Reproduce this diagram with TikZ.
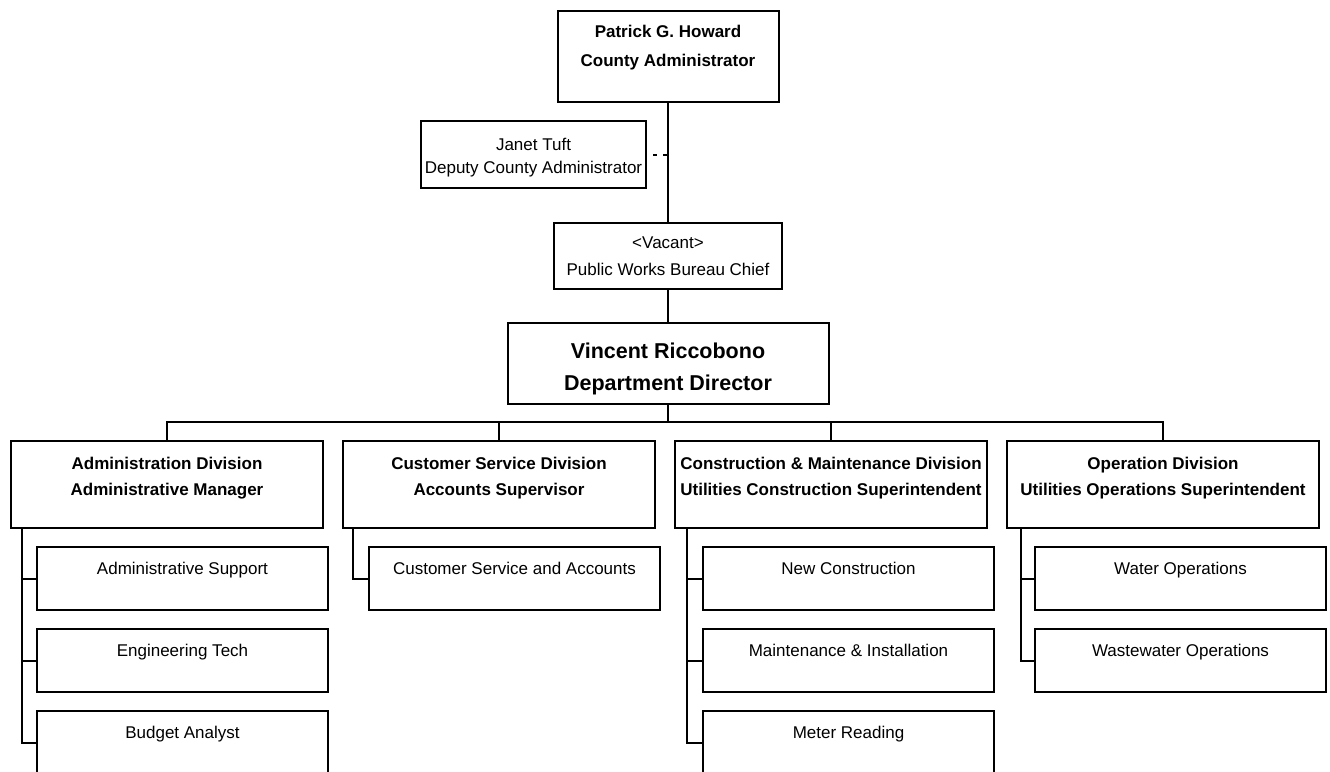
\documentclass[tikz,border=0pt]{standalone}
\usepackage{fontspec}
\setmainfont{Liberation Sans}

\begin{document}
\begin{tikzpicture}[x=0.5pt, y=-0.5pt, line width=1pt,
    unit/.style={draw, inner sep=0pt},
    headtext/.style={anchor=north, align=center, inner sep=0pt, font=\fontsize{8.5}{#1}\selectfont\bfseries},
    bodytext/.style={anchor=north, align=center, inner sep=0pt, font=\fontsize{8.5}{#1}\selectfont},
    division/.style={unit, anchor=north west, minimum width=156pt, minimum height=43.5pt},
    section/.style={unit, anchor=north west, minimum width=145.5pt, minimum height=31.5pt,
        label={[bodytext=12pt, yshift=-7.5pt]north:#1}}]
    \path[use as bounding box, clip] (0,0) rectangle (1330,772);

    % top of the chart
    \node[unit, anchor=north, minimum width=110.5pt, minimum height=45.5pt,
        label={[headtext=14.5pt, yshift=-7pt]north:Patrick G. Howard\\County Administrator}] (howard) at (668,10) {};
    \node[unit, anchor=north west, minimum width=112.5pt, minimum height=33.5pt,
        label={[bodytext=11.5pt, yshift=-8.5pt]north:Janet Tuft\\Deputy County Administrator}] (tuft) at (420,120) {};
    \node[unit, anchor=north, minimum width=114pt, minimum height=33pt,
        label={[bodytext=13.5pt, yshift=-7pt]north:<Vacant>\\Public Works Bureau Chief}] (chief) at (668,222) {};
    \node[unit, anchor=north, minimum width=160.5pt, minimum height=40.5pt,
        label={[anchor=north, align=center, inner sep=0pt, font=\fontsize{10.75}{16}\selectfont\bfseries, yshift=-10pt]north:Vincent Riccobono\\Department Director}] (director) at (668,322) {};

    \draw (howard) -- (chief);
    \draw[dash pattern=on 2pt off 3pt, dash phase=2pt] (tuft.east) -- (tuft.east -| howard.south);
    \draw (chief) -- (director);

    % divisions
    \node[division, label={[headtext=13pt, yshift=-8pt]north:Administration Division\\Administrative Manager}] (admin) at (10,440) {};
    \node[division, label={[headtext=13pt, yshift=-8pt]north:Customer Service Division\\Accounts Supervisor}] (customer) at (342,440) {};
    \node[division, label={[headtext=13pt, yshift=-8pt]north:Construction \& Maintenance Division\\Utilities Construction Superintendent}] (construction) at (674,440) {};
    \node[division, label={[headtext=13pt, yshift=-8pt]north:Operation Division\\Utilities Operations Superintendent}] (operation) at (1006,440) {};

    \coordinate (bus) at (668,422);
    \draw (director) -- (bus);
    \foreach \branch in {admin,customer,construction,operation}
        \draw (bus) -| (\branch.north);

    % sections
    \node[section=Administrative Support] (support) at (36,546) {};
    \node[section=Engineering Tech] (tech) at (36,628) {};
    \node[section=Budget Analyst] (budget) at (36,710) {};
    \node[section=Customer Service and Accounts] (accounts) at (368,546) {};
    \node[section=New Construction] (newbuild) at (702,546) {};
    \node[section=Maintenance \& Installation] (install) at (702,628) {};
    \node[section=Meter Reading] (meter) at (702,710) {};
    \node[section=Water Operations] (water) at (1034,546) {};
    \node[section=Wastewater Operations] (wastewater) at (1034,628) {};

    \foreach \sec in {support,tech,budget}
        \draw ([xshift=6pt]admin.south west) |- (\sec.west);
    \draw ([xshift=5.5pt]customer.south west) |- (accounts.west);
    \foreach \sec in {newbuild,install,meter}
        \draw ([xshift=6.5pt]construction.south west) |- (\sec.west);
    \foreach \sec in {water,wastewater}
        \draw ([xshift=7.5pt]operation.south west) |- (\sec.west);
\end{tikzpicture}
\end{document}
